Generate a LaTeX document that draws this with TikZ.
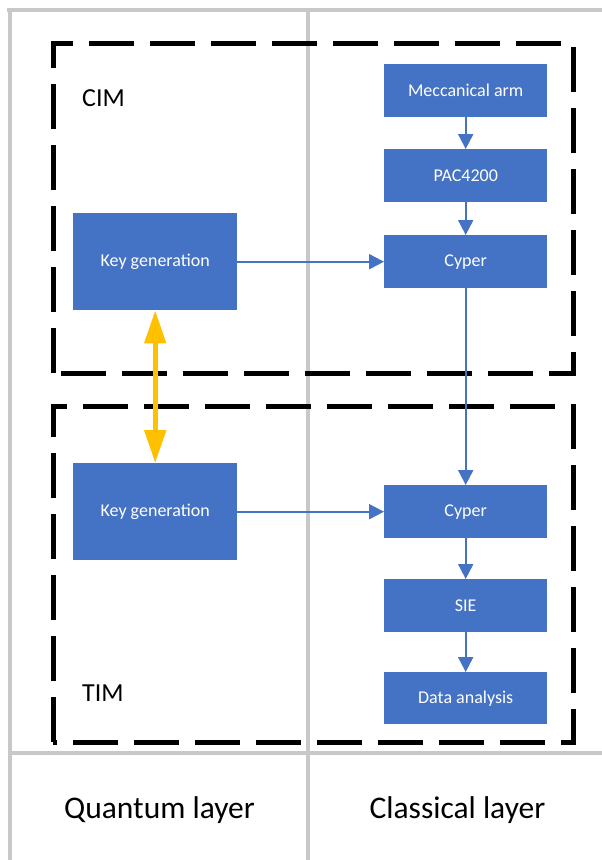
\documentclass[tikz,border=0pt]{standalone}
\usepackage{fontspec}
\setmainfont{Carlito}
\usetikzlibrary{arrows.meta}
\definecolor{boxblue}{HTML}{4472C4}
\definecolor{gridgray}{HTML}{C8C8C8}
\definecolor{keyyellow}{HTML}{FFC000}
\begin{document}
\begin{tikzpicture}[x=1pt,y=-1pt,
  gridline/.style={draw=gridgray, line width=3.5pt},
  dashbox/.style={draw=black, line width=5pt, dash pattern=on 45pt off 16pt},
  blk/.style={fill=boxblue, text=white, font=\fontsize{18}{20}\selectfont, minimum width=163pt, minimum height=53pt, inner sep=0pt, anchor=north west},
  keyblk/.style={blk, minimum width=164pt, minimum height=97pt},
  barrow/.style={draw=boxblue, line width=2pt, -{Triangle[length=15pt,width=15pt]}},
  yarrow/.style={draw=keyyellow, line width=5pt, {Triangle[length=33pt,width=21pt]}-{Triangle[length=33pt,width=21pt]}},
  grplabel/.style={font=\fontsize{26}{30}\selectfont, anchor=base west, inner sep=0pt},
  layerlabel/.style={font=\fontsize{31.5}{36}\selectfont, anchor=base, inner sep=0pt}]
\useasboundingbox (0,0) rectangle (602,860);
\fill[white] (0,0) rectangle (602,860);
% grid
\draw[gridline] (7,10) -- (602,10);
\draw[gridline] (10,10) -- (10,860);
\draw[gridline] (308,10) -- (308,860);
\draw[gridline] (10,753) -- (602,753);
% dashed groups
\draw[dashbox] (53,373) -- (53,43) -- (573,43) -- (573,373) -- cycle;
\draw[dashbox] (53,742) -- (53,406) -- (573,406) -- (573,742) -- cycle;
% labels
\node[grplabel] (cim) at (82,106) {CIM};
\node[grplabel] (tim) at (82,701) {TIM};
\node[layerlabel] (ql) at (159.5,818) {Quantum layer};
\node[layerlabel] (cl) at (457.5,818) {Classical layer};
% boxes
\node[keyblk] (kg1) at (73,213) {Key generation};
\node[keyblk] (kg2) at (73,463) {Key generation};
\node[blk] (mech) at (384,64) {Meccanical arm};
\node[blk] (pac) at (384,149) {PAC4200};
\node[blk] (cy1) at (384,235) {Cyper};
\node[blk] (cy2) at (384,485) {Cyper};
\node[blk] (sie) at (384,579) {SIE};
\node[blk, minimum height=52pt] (da) at (384,672) {Data analysis};
% connectors
\draw[barrow] (mech) -- (pac);
\draw[barrow] (pac) -- (cy1);
\draw[barrow] (cy1) -- (cy2);
\draw[barrow] (cy2) -- (sie);
\draw[barrow] (sie) -- (da);
\draw[barrow] (kg1) -- (cy1);
\draw[barrow] (kg2) -- (cy2);
\draw[yarrow] (kg1.south) -- (kg2.north);
\end{tikzpicture}
\end{document}
